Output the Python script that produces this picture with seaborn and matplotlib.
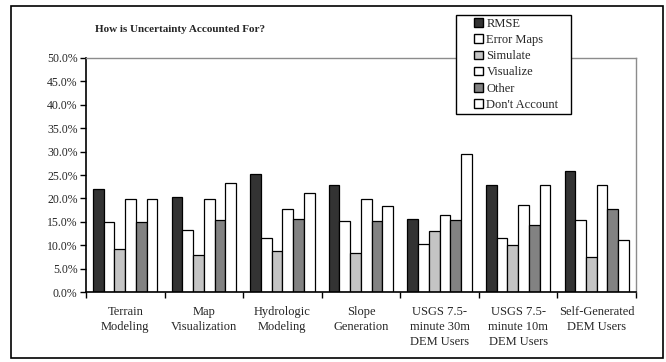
import matplotlib
matplotlib.use("Agg")
import matplotlib.pyplot as plt
import matplotlib.patches as mpatches
import numpy as np
import pandas as pd
import seaborn as sns

categories = ["Terrain\nModeling", "Map\nVisualization", "Hydrologic\nModeling",
              "Slope\nGeneration", "USGS 7.5-\nminute 30m\nDEM Users",
              "USGS 7.5-\nminute 10m\nDEM Users", "Self-Generated\nDEM Users"]
methods = ["RMSE", "Error Maps", "Simulate", "Visualize", "Other", "Don't Account"]

rmse = [22.0, 20.3, 25.2, 22.9, 15.6, 22.9, 25.8]
error_maps = [15.0, 13.3, 11.5, 15.2, 10.3, 11.5, 15.4]
simulate = [9.3, 8.0, 8.8, 8.3, 13.0, 10.0, 7.5]
visualize = [19.8, 19.9, 17.8, 19.9, 16.4, 18.7, 22.9]
other = [14.9, 15.4, 15.7, 15.2, 15.5, 14.4, 17.7]
dont_account = [19.8, 23.3, 21.2, 18.4, 29.4, 22.9, 11.1]

colors = ["#333333", "#ffffff", "#c4c4c4", "#ffffff", "#828282", "#ffffff"]

series = [rmse, error_maps, simulate, visualize, other, dont_account]
df = pd.DataFrame({
    "category": np.repeat([categories], len(methods), axis=0).ravel(),
    "method": np.repeat(methods, len(categories)),
    "value": np.concatenate(series),
})

sns.set_style("white")
plt.rcParams["font.family"] = ["Liberation Serif", "DejaVu Serif"]

fig = plt.figure(figsize=(6.66, 3.62), dpi=100)
ax = fig.add_axes([0.129, 0.193, 0.826, 0.647])

sns.barplot(data=df, x="category", y="value", hue="method", order=categories,
            hue_order=methods, palette=colors, width=0.82, gap=0,
            edgecolor="black", linewidth=0.9, saturation=1, ax=ax, legend=False)

ax.set_xlim(-0.5, len(categories) - 0.5)
ax.set_ylim(0, 50)
ax.set_yticks(np.arange(0, 50.1, 5))
ax.set_yticklabels([f"{v:.1f}%" for v in np.arange(0, 50.1, 5)], fontsize=8.5)
ax.set_xticks(range(len(categories)))
ax.set_xticklabels(categories, fontsize=9, linespacing=1.35)
ax.set_xticks(np.arange(-0.5, len(categories)), minor=True)
ax.tick_params(axis="x", which="major", length=0, pad=10)
ax.tick_params(axis="x", which="minor", length=4, direction="out", width=1, color="black", bottom=True)
ax.tick_params(axis="y", length=4, direction="out", width=1, color="black", left=True, pad=2)
ax.set_xlabel("")
ax.set_ylabel("")

for side in ["left", "bottom"]:
    ax.spines[side].set_color("black")
    ax.spines[side].set_linewidth(1.2)
for side in ["top", "right"]:
    ax.spines[side].set_color("#8c8c8c")
    ax.spines[side].set_linewidth(1.0)

fig.text(0.27, 0.918, "How is Uncertainty Accounted For?", fontsize=8,
         fontweight="bold", ha="center", va="center")

# legend box drawn separately so it can have wide left padding
fig.patches.append(mpatches.Rectangle((457 / 666, 1 - 115 / 362), 115 / 666, 99 / 362,
                                      transform=fig.transFigure, facecolor="#8a8a8a",
                                      edgecolor="none", zorder=4))
fig.patches.append(mpatches.Rectangle((456 / 666, 1 - 114 / 362), 115 / 666, 99 / 362,
                                      transform=fig.transFigure, facecolor="white",
                                      edgecolor="black", linewidth=1.0, zorder=5))
handles = [mpatches.Patch(facecolor=c, edgecolor="black", linewidth=1) for c in colors]
leg = fig.legend(handles, methods, loc="upper left", bbox_to_anchor=(474 / 666, 1 - 18 / 362),
                 fontsize=9, frameon=False, handlelength=0.7, handleheight=0.7,
                 handletextpad=0.3, labelspacing=0.33, borderpad=0, borderaxespad=0)
leg.set_zorder(6)

fig.patches.append(mpatches.Rectangle((0.017, 0.012), 0.978, 0.972, transform=fig.transFigure,
                                      fill=False, edgecolor="black", linewidth=1.2))

fig.savefig("out.png", dpi=100)
